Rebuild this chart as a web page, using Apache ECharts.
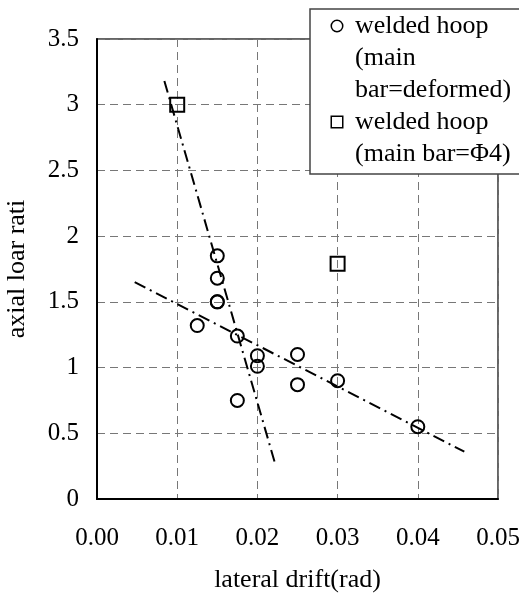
<!DOCTYPE html>
<html>
<head>
<meta charset="utf-8">
<script src="https://cdn.jsdelivr.net/npm/echarts@6/dist/echarts.min.js"></script>
<style>
  html, body { margin: 0; padding: 0; background: #fff; }
  #chart { width: 519px; height: 599px; }
</style>
</head>
<body>
<div id="chart"></div>
<script>
// welded hoop, main bar = deformed (circles)
const circleDrift = [0.015, 0.015, 0.015, 0.015, 0.0125, 0.0175, 0.02, 0.02, 0.025, 0.025, 0.03, 0.0175, 0.04]
const circleLoad = [1.85, 1.68, 1.50, 1.50, 1.32, 1.24, 1.09, 1.01, 1.10, 0.87, 0.90, 0.75, 0.55]
// welded hoop, main bar = Φ4 (squares)
const squareDrift = [0.01, 0.03]
const squareLoad = [3.0, 1.79]
// dash-dot trend lines (end points)
const steepDrift = [0.0084, 0.0223]
const steepLoad = [3.18, 0.25]
const flatDrift = [0.0047, 0.0458]
const flatLoad = [1.65, 0.36]

const seriesNames = ['welded hoop\n(main\nbar=deformed)', 'welded hoop\n(main bar=Φ4)']
const font = 'Liberation Serif'

const zip = (a, b) => a.map((v, i) => [v, b[i]])

// legend text: marker box on the first line, other lines indented
function legendText(name) {
  const mark = name === seriesNames[0] ? 'c' : 'r'
  return name.split('\n').map((line, i) =>
    i === 0 ? '{' + mark + '|}{g|}{t|' + line + '}' : '{s|}{t|' + line + '}'
  ).join('\n')
}

const chart = echarts.init(document.getElementById('chart'))
chart.setOption({
  animation: false,
  backgroundColor: '#fff',
  grid: {
    left: 97, right: 21, top: 39, bottom: 100,
    show: true, borderColor: '#333', borderWidth: 1.5,
    outerBoundsMode: 'none'
  },
  legend: {
    orient: 'vertical',
    left: 310, top: 9,
    padding: [1, 40, 4, 17],
    itemGap: 0,
    itemWidth: 0, itemHeight: 0,
    icon: 'none',
    backgroundColor: '#fff',
    borderColor: '#444', borderWidth: 1.5,
    data: seriesNames,
    formatter: legendText,
    textStyle: {
      fontFamily: font, fontSize: 26, color: '#000', lineHeight: 32,
      rich: {
        c: { width: 10, height: 10, borderColor: '#000', borderWidth: 1.5, borderRadius: 5, backgroundColor: '#fff' },
        r: { width: 10, height: 10, borderColor: '#000', borderWidth: 1.5, backgroundColor: '#fff' },
        g: { width: 13 },
        s: { width: 23 },
        t: { fontFamily: font, fontSize: 26, color: '#000', lineHeight: 32 }
      }
    }
  },
  xAxis: {
    type: 'value', min: 0, max: 0.05, interval: 0.01,
    name: 'lateral drift(rad)', nameLocation: 'middle', nameGap: 68,
    nameTextStyle: { fontFamily: font, fontSize: 26, color: '#000' },
    axisLine: { show: true, onZero: false, lineStyle: { color: '#000', width: 2 } },
    axisTick: { show: false },
    axisLabel: { fontFamily: font, fontSize: 25, color: '#000', margin: 27, formatter: v => v.toFixed(2) },
    splitLine: { show: true, lineStyle: { color: '#777', width: 1, type: [8, 5] } }
  },
  yAxis: {
    type: 'value', min: 0, max: 3.5, interval: 0.5,
    name: 'axial loar rati', nameLocation: 'middle', nameGap: 67, nameRotate: 90,
    nameTextStyle: { fontFamily: font, fontSize: 26, color: '#000' },
    axisLine: { show: true, onZero: false, lineStyle: { color: '#000', width: 2 } },
    axisTick: { show: false },
    axisLabel: { fontFamily: font, fontSize: 25, color: '#000', margin: 18 },
    splitLine: { show: true, lineStyle: { color: '#777', width: 1, type: [8, 5] } }
  },
  series: [
    {
      name: 'steep trend', type: 'line', data: zip(steepDrift, steepLoad),
      showSymbol: false, symbol: 'none', silent: true,
      lineStyle: { color: '#000', width: 2, type: [12, 5, 2, 5] }
    },
    {
      name: 'flat trend', type: 'line', data: zip(flatDrift, flatLoad),
      showSymbol: false, symbol: 'none', silent: true,
      lineStyle: { color: '#000', width: 2, type: [12, 5, 2, 5] }
    },
    {
      name: seriesNames[0], type: 'scatter', data: zip(circleDrift, circleLoad),
      symbol: 'circle', symbolSize: 13,
      itemStyle: { color: 'rgba(0,0,0,0)', borderColor: '#000', borderWidth: 2, opacity: 1 }
    },
    {
      name: seriesNames[1], type: 'scatter', data: zip(squareDrift, squareLoad),
      symbol: 'rect', symbolSize: 14,
      itemStyle: { color: 'rgba(0,0,0,0)', borderColor: '#000', borderWidth: 2, opacity: 1 }
    }
  ]
})
</script>
</body>
</html>
